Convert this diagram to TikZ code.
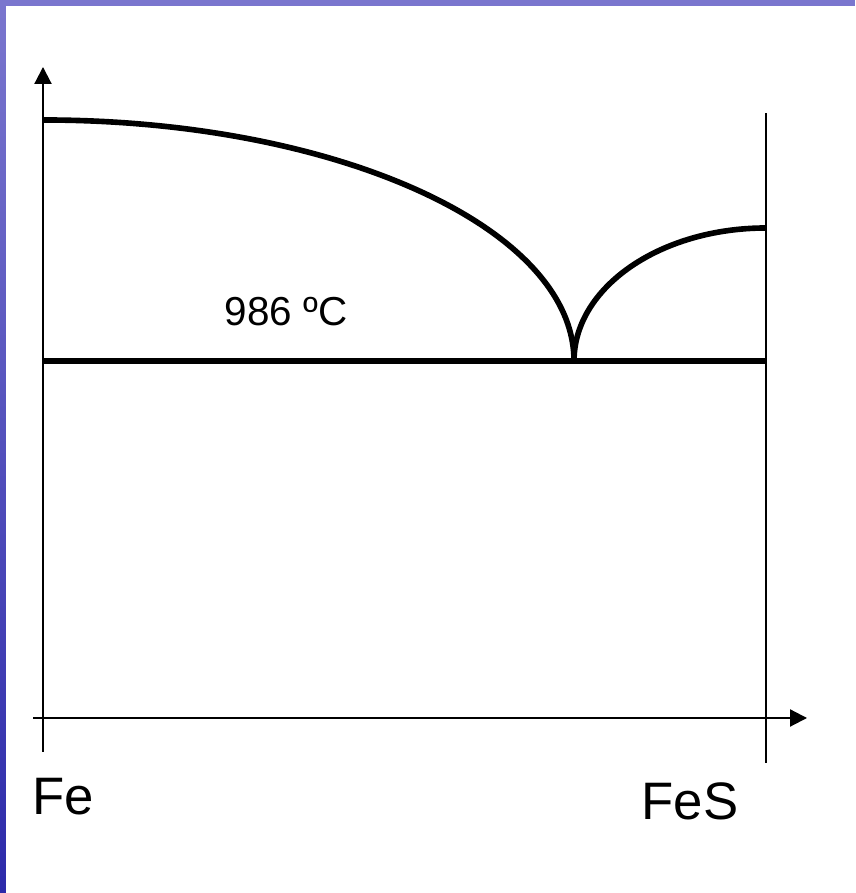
\documentclass[tikz,border=0pt]{standalone}
\usepackage{fontspec}
\setmainfont{Liberation Sans}
\usetikzlibrary{arrows.meta}

\definecolor{slideblue}{RGB}{44,42,170}
\definecolor{slidelav}{RGB}{122,118,206}

\newcommand*{\xmin}{0.33}
\newcommand*{\xmax}{8.07}
\newcommand*{\ymin}{1.41}
\newcommand*{\ymax}{8.26}
\newcommand*{\xfes}{7.66}
\newcommand*{\yeut}{5.32}

\begin{document}
\begin{tikzpicture}
[
	axis/.style={line width=0.6pt,-{Triangle[length=1.7mm,width=1.7mm]}},
	thin line/.style={line width=0.6pt},
	phase line/.style={line width=1.6pt},
	label/.style={inner sep=0pt,anchor=base west}
]

	\useasboundingbox (0,0) rectangle (8.55,8.93);

	% slide border
	\shade[top color=slidelav,middle color=slideblue,bottom color=slideblue] (0,0) rectangle (0.06,8.93);
	\fill[slidelav] (0,8.87) rectangle (8.55,8.93);

	% axes
	\coordinate (xstart) at (\xmin,1.75);
	\coordinate (xend) at (\xmax,1.75);
	\coordinate (ystart) at (0.43,\ymin);
	\coordinate (yend) at (0.43,\ymax);
	\draw[axis] (xstart) -- (xend);
	\draw[axis] (ystart) -- (yend);

	\coordinate (fesbot) at (\xfes,1.30);
	\coordinate (festop) at (\xfes,7.80);
	\draw[thin line] (fesbot) -- (festop);

	% eutectic
	\coordinate (eutleft) at (0.43,\yeut);
	\coordinate (eutright) at (\xfes,\yeut);
	\coordinate (eut) at (5.74,\yeut);
	\draw[phase line] (eutleft) -- (eutright);

	% liquidus
	\coordinate (femelt) at (0.43,7.73);
	\coordinate (fesmelt) at (\xfes,6.65);
	\draw[phase line] (femelt) arc[start angle=90,end angle=0,x radius=5.31,y radius=2.41];
	\draw[phase line] (eut) arc[start angle=180,end angle=90,x radius=1.92,y radius=1.33];

	% labels
	\node[label,font=\fontsize{11.5}{13}\selectfont] (teut) at (2.24,5.67) {986 ºC};
	\node[label,font=\fontsize{15}{18}\selectfont] (fe) at (0.32,0.78) {Fe};
	\node[label,font=\fontsize{15}{18}\selectfont] (fes) at (6.41,0.73) {FeS};

\end{tikzpicture}
\end{document}
